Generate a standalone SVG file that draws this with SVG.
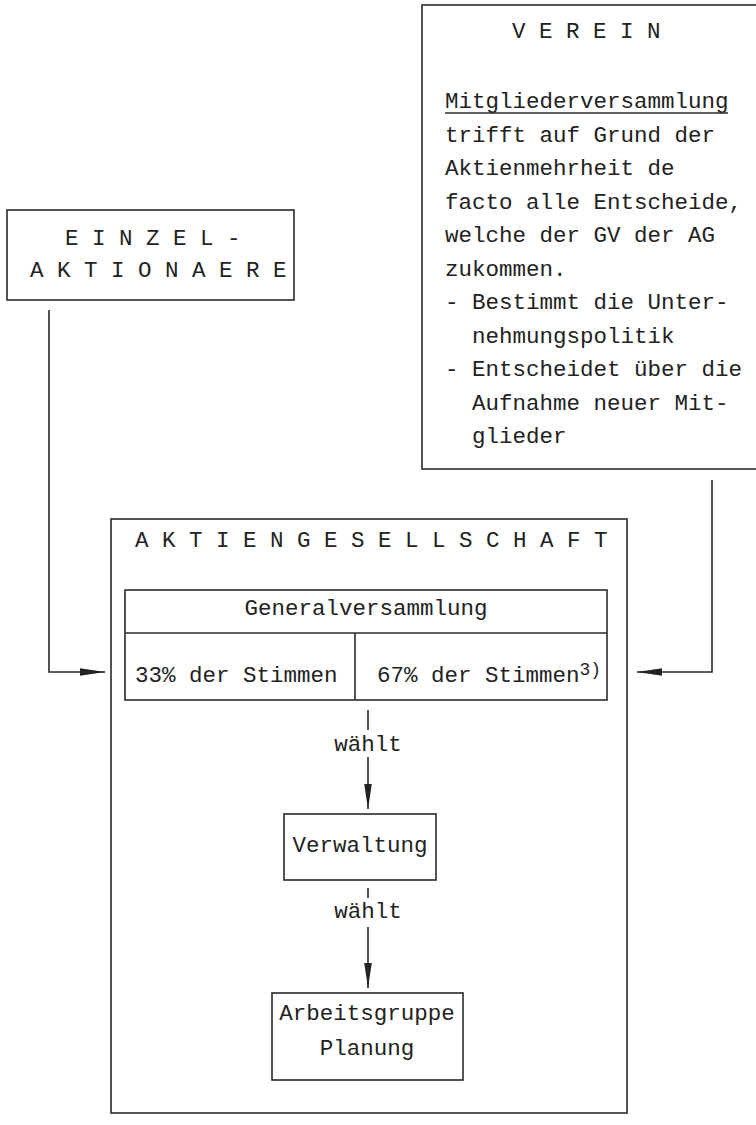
<svg xmlns="http://www.w3.org/2000/svg" width="756" height="1125" viewBox="0 0 756 1125">
<style>
.box{fill:none;stroke:#2a2a2a;stroke-width:1.6}
.ln{fill:none;stroke:#2a2a2a;stroke-width:1.6}
text{font-family:"Liberation Mono","Courier New",monospace;font-size:22.5px;fill:#222}
.c{text-anchor:middle}
.sup{font-size:18px}
</style>
<defs>
<marker id="ah" viewBox="0 0 25 10" refX="25" refY="5" markerWidth="25" markerHeight="10" markerUnits="userSpaceOnUse" orient="auto">
<path d="M0,1.2 L25,5 L0,8.8 Z" fill="#222"/>
</marker>
</defs>
<rect width="756" height="1125" fill="#fff"/>

<g id="einzel">
<rect class="box" x="7" y="210" width="287" height="90"/>
<text x="65" y="245">E I N Z E L -</text>
<text x="30" y="277">A K T I O N A E R E</text>
</g>

<g id="verein">
<rect class="box" x="422" y="5" width="340" height="464"/>
<text x="512" y="38">V E R E I N</text>
<text x="445" y="108">Mitgliederversammlung</text>
<line class="ln" x1="445" y1="113" x2="728" y2="113" stroke-width="1.3"/>
<text x="445" y="141.5">trifft auf Grund der</text>
<text x="445" y="175">Aktienmehrheit de</text>
<text x="445" y="208.5">facto alle Entscheide,</text>
<text x="445" y="242">welche der GV der AG</text>
<text x="445" y="275.5">zukommen.</text>
<text x="445" y="309">- Bestimmt die Unter-</text>
<text x="472" y="342.5">nehmungspolitik</text>
<text x="445" y="376">- Entscheidet über die</text>
<text x="472" y="409.5">Aufnahme neuer Mit-</text>
<text x="472" y="443">glieder</text>
</g>

<g id="aktiengesellschaft">
<rect class="box" x="111" y="519" width="516" height="594"/>
<text x="135" y="547">A K T I E N G E S E L L S C H A F T</text>
</g>

<g id="generalversammlung">
<rect class="box" x="125" y="590" width="482" height="110"/>
<line class="ln" x1="125" y1="633" x2="607" y2="633"/>
<line class="ln" x1="355" y1="633" x2="355" y2="700"/>
<text class="c" x="366" y="615">Generalversammlung</text>
<text x="135" y="682">33% der Stimmen</text>
<text x="377" y="682">67% der Stimmen<tspan class="sup" dy="-7">3)</tspan></text>
</g>

<g id="verwaltung">
<rect class="box" x="284" y="814" width="152" height="66"/>
<text class="c" x="360" y="852">Verwaltung</text>
</g>

<g id="arbeitsgruppe">
<rect class="box" x="272" y="993" width="191" height="87"/>
<text class="c" x="367" y="1020">Arbeitsgruppe</text>
<text class="c" x="367" y="1055">Planung</text>
</g>

<g id="connectors">
<path class="ln" d="M49,310 V672 H105" marker-end="url(#ah)"/>
<path class="ln" d="M712,480 V672 H637" marker-end="url(#ah)"/>
<line class="ln" x1="368" y1="710" x2="368" y2="730"/>
<text class="c" x="368" y="751">wählt</text>
<line class="ln" x1="368" y1="757" x2="368" y2="809" marker-end="url(#ah)"/>
<line class="ln" x1="368" y1="888" x2="368" y2="898"/>
<text class="c" x="368" y="918">wählt</text>
<line class="ln" x1="368" y1="927" x2="368" y2="988" marker-end="url(#ah)"/>
</g>
</svg>
